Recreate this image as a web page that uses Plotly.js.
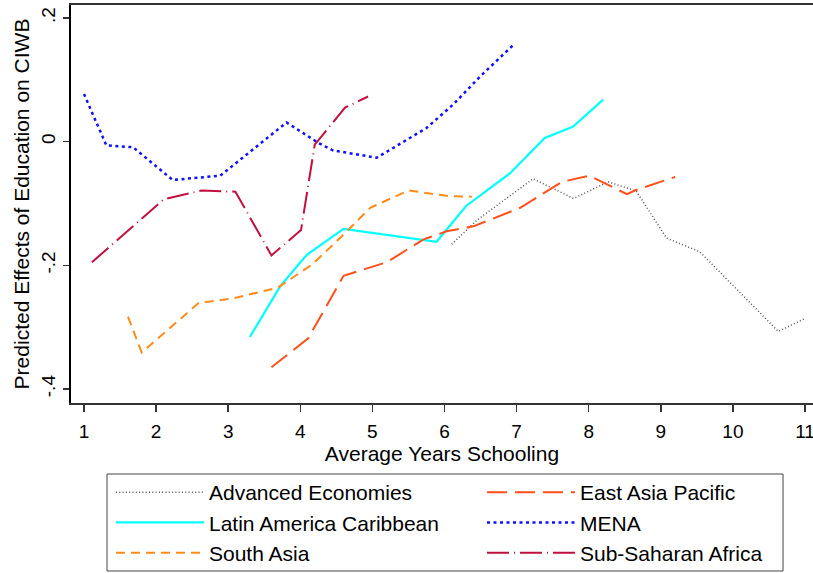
<!DOCTYPE html>
<html>
<head>
<meta charset="utf-8">
<script src="https://cdn.plot.ly/plotly-3.0.1.min.js"></script>
<style>html,body{margin:0;padding:0;background:#fff;}#chart{width:813px;height:573px;}</style>
</head>
<body>
<div id="chart"></div>
<script>
// Data
var advX = [6.10, 6.45, 7.23, 7.79, 8.27, 8.66, 9.08, 9.54, 10.63, 11.00];
var advY = [-0.166, -0.127, -0.060, -0.092, -0.065, -0.080, -0.156, -0.178, -0.307, -0.286];

var eapX = [3.60, 4.11, 4.60, 5.20, 5.71, 6.03, 6.40, 7.05, 7.63, 8.01, 8.53, 8.64, 9.20];
var eapY = [-0.365, -0.318, -0.217, -0.195, -0.158, -0.145, -0.137, -0.107, -0.065, -0.055, -0.085, -0.079, -0.057];

var lacX = [3.30, 3.72, 4.09, 4.60, 5.89, 6.30, 6.91, 7.39, 7.78, 8.20];
var lacY = [-0.316, -0.234, -0.183, -0.141, -0.162, -0.104, -0.051, 0.006, 0.024, 0.068];

var menaX = [1.00, 1.31, 1.68, 2.23, 2.89, 3.81, 4.25, 4.45, 5.06, 5.75, 6.12, 6.50, 6.96];
var menaY = [0.077, -0.006, -0.009, -0.062, -0.055, 0.031, -0.002, -0.014, -0.026, 0.022, 0.060, 0.106, 0.157];

var saX = [1.61, 1.80, 2.59, 3.09, 3.69, 4.16, 4.55, 4.97, 5.50, 6.05, 6.38];
var saY = [-0.283, -0.341, -0.261, -0.253, -0.236, -0.199, -0.156, -0.107, -0.079, -0.088, -0.089];

var ssaX = [1.11, 2.11, 2.63, 3.10, 3.60, 4.01, 4.20, 4.62, 4.94];
var ssaY = [-0.195, -0.093, -0.079, -0.081, -0.184, -0.143, -0.005, 0.055, 0.073];

var xTicks = [1, 2, 3, 4, 5, 6, 7, 8, 9, 10, 11];
var yTickVals = [-0.4, -0.2, 0, 0.2];
var yTickText = ['-.4', '-.2', '0', '.2'];

var FONT = 'Liberation Sans, Arial, Helvetica, sans-serif';

var traces = [
  {name: 'Advanced Economies', x: advX, y: advY, mode: 'lines', legend: 'legend',
   line: {color: '#555555', width: 1.5, dash: '1px,2.3px'}},
  {name: 'Latin America Caribbean', x: lacX, y: lacY, mode: 'lines', legend: 'legend',
   line: {color: '#00FFFF', width: 2.2}},
  {name: 'South Asia', x: saX, y: saY, mode: 'lines', legend: 'legend',
   line: {color: '#FF8C1A', width: 2, dash: '9px,6px'}},
  {name: 'East Asia Pacific', x: eapX, y: eapY, mode: 'lines', legend: 'legend2',
   line: {color: '#FF4F1A', width: 2, dash: '20px,8px'}},
  {name: 'MENA', x: menaX, y: menaY, mode: 'lines', legend: 'legend2',
   line: {color: '#1010FF', width: 2.5, dash: '3px,3.5px'}},
  {name: 'Sub-Saharan Africa', x: ssaX, y: ssaY, mode: 'lines', legend: 'legend2',
   line: {color: '#C0103F', width: 2, dash: '22px,5px,1px,5px'}}
];

var legendCommon = {
  orientation: 'v', yanchor: 'top', xanchor: 'left',
  bgcolor: 'rgba(0,0,0,0)', borderwidth: 0,
  font: {size: 21, family: FONT, color: '#000000'},
  itemwidth: 88, traceorder: 'normal'
};

var layout = {
  width: 813, height: 573,
  margin: {l: 71, r: 0, t: 5, b: 170, autoexpand: false},
  paper_bgcolor: '#ffffff', plot_bgcolor: '#ffffff',
  font: {family: FONT, color: '#000000', size: 19},
  showlegend: true,
  xaxis: {
    range: [0.8197, 11.111], tickvals: xTicks, ticktext: xTicks.map(String),
    showgrid: false, zeroline: false, showline: true, mirror: true,
    linecolor: '#333333', linewidth: 2,
    ticks: 'outside', ticklen: 7, tickwidth: 1.5, tickcolor: '#333333',
    ticklabelstandoff: 3, ticklabeloverflow: 'allow',
    tickfont: {size: 19, family: FONT},
    title: {text: 'Average Years Schooling', font: {size: 21, family: FONT}, standoff: 0},
    automargin: false
  },
  yaxis: {
    range: [-0.4227, 0.221], tickvals: yTickVals, ticktext: yTickText,
    showgrid: false, zeroline: false, showline: true,
    linecolor: '#000000', linewidth: 2,
    ticks: 'outside', ticklen: 6, tickwidth: 1.5, tickcolor: '#333333',
    tickangle: -90,
    tickfont: {size: 19, family: FONT},
    title: {text: 'Predicted Effects of Education on CIWB', font: {size: 21, family: FONT}, standoff: 3},
    automargin: false
  },
  legend: Object.assign({}, legendCommon, {x: 0.0539, y: -0.1734}),
  legend2: Object.assign({}, legendCommon, {x: 0.5539, y: -0.1734}),
  shapes: [{
    type: 'rect', xref: 'paper', yref: 'paper',
    x0: 0.0485, x1: 0.9596, y0: -0.4221, y1: -0.1784,
    line: {color: '#444444', width: 1}, fillcolor: 'rgba(0,0,0,0)', layer: 'below'
  }]
};

Plotly.newPlot('chart', traces, layout, {displayModeBar: false, staticPlot: true});
</script>
</body>
</html>
